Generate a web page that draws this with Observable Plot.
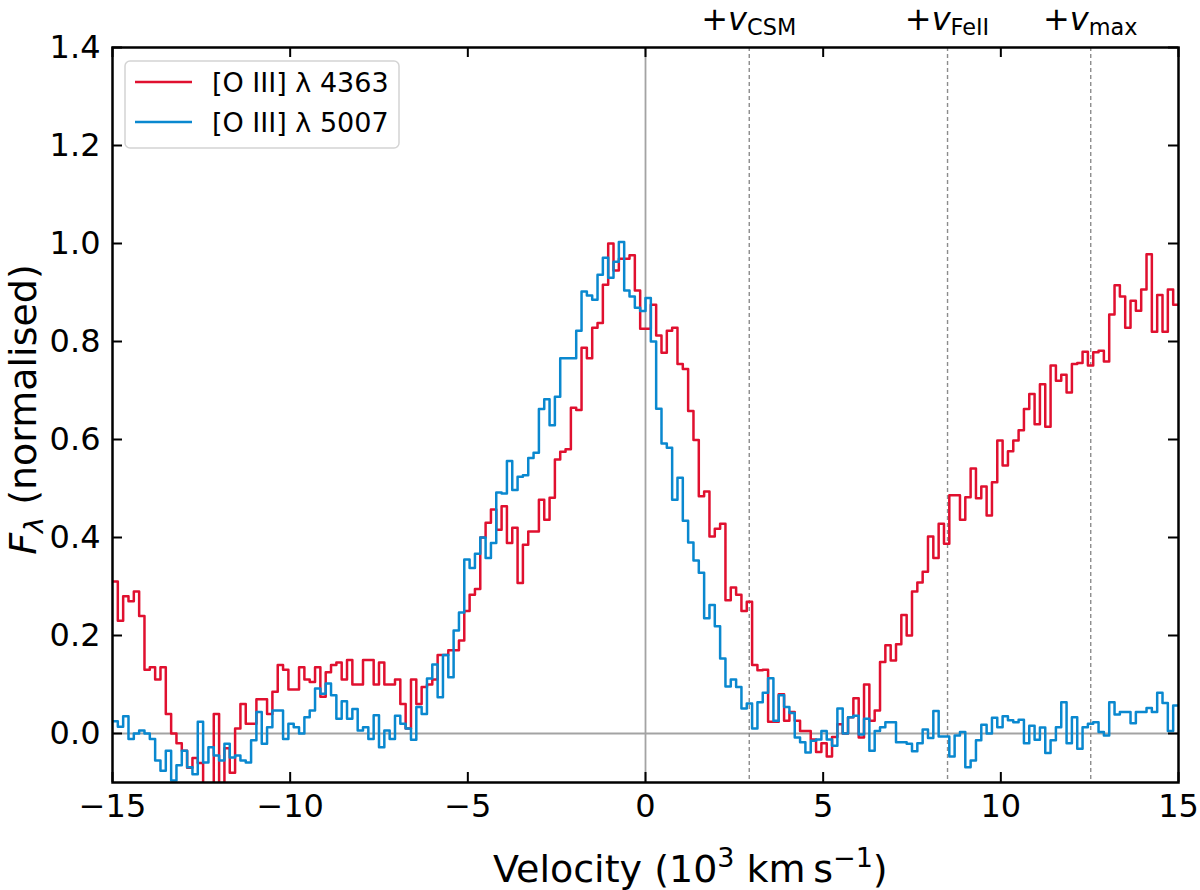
<!DOCTYPE html>
<html>
<head>
<meta charset="utf-8">
<script src="https://cdn.jsdelivr.net/npm/d3@7"></script>
<script src="https://cdn.jsdelivr.net/npm/@observablehq/plot@0.6"></script>
<style>
  body { margin: 0; background: #fff; }
  #chart svg { display: block; }
</style>
</head>
<body>
<div id="chart"></div>
<script>
// velocity grid, 10^3 km/s
const binStart = -15;
const binWidth = 0.15;

// [O III] 4363 normalised flux, one value per bin
const flux4363 = [
  0.31, 0.23, 0.28, 0.27, 0.29, 0.24, 0.13, 0.135, 0.11, 0.135,
  0.04, 0.0, -0.02, -0.035, -0.07, -0.05, -0.06, -0.12, -0.12, 0.04,
  -0.12, -0.03, -0.08, 0.01, 0.06, 0.02, 0.02, 0.07, 0.07, 0.04,
  0.085, 0.14, 0.13, 0.09, 0.09, 0.135, 0.11, 0.105, 0.135, 0.075,
  0.125, 0.14, 0.145, 0.11, 0.15, 0.10, 0.10, 0.15, 0.15, 0.10,
  0.145, 0.10, 0.10, 0.11, 0.06, 0.01, 0.11, 0.06, 0.095, 0.10,
  0.11, 0.16, 0.16, 0.17, 0.17, 0.19, 0.25, 0.283, 0.295, 0.40,
  0.43, 0.457, 0.416, 0.464, 0.389, 0.42, 0.307, 0.385, 0.412, 0.412,
  0.477, 0.436, 0.481, 0.559, 0.575, 0.58, 0.665, 0.66, 0.787, 0.766,
  0.828, 0.838, 0.916, 1.0, 0.945, 0.969, 0.969, 0.976, 0.904, 0.826,
  0.826, 0.875, 0.812, 0.777, 0.822, 0.828, 0.754, 0.744, 0.658, 0.599,
  0.484, 0.494, 0.402, 0.418, 0.428, 0.272, 0.298, 0.283, 0.25, 0.269,
  0.14, 0.129, 0.13, 0.024, 0.024, 0.08, 0.026, 0.044, 0.026, 0.005,
  0.005, -0.012, -0.038, -0.02, -0.047, -0.007, 0.019, 0.0, 0.033, 0.072,
  -0.008, 0.10, 0.026, 0.047, 0.146, 0.18, 0.149, 0.182, 0.242, 0.20,
  0.29, 0.308, 0.33, 0.402, 0.358, 0.428, 0.387, 0.486, 0.486, 0.436,
  0.482, 0.541, 0.48, 0.504, 0.445, 0.513, 0.598, 0.547, 0.576, 0.598,
  0.619, 0.662, 0.693, 0.631, 0.713, 0.626, 0.751, 0.72, 0.732, 0.696,
  0.754, 0.756, 0.779, 0.751, 0.778, 0.781, 0.759, 0.855, 0.915, 0.892,
  0.828, 0.883, 0.863, 0.906, 0.978, 0.82, 0.895, 0.82, 0.906, 0.875
];

// [O III] 5007 normalised flux, one value per bin
const flux5007 = [
  0.025, 0.014, 0.035, -0.011, 0.0, 0.006, 0.0, -0.011, -0.055, -0.076,
  -0.035, -0.096, -0.065, -0.035, -0.069, -0.083, 0.024, -0.059, -0.028, -0.045,
  -0.055, -0.021, -0.049, -0.045, -0.055, -0.059, -0.014, 0.044, -0.021, 0.013,
  0.047, 0.047, -0.011, 0.02, 0.013, 0.0, 0.033, 0.047, 0.092, 0.081,
  0.102, 0.078, 0.03, 0.066, 0.03, 0.05, 0.006, 0.013, -0.011, 0.037,
  -0.028, 0.006, -0.011, 0.036, 0.02, 0.01, -0.013, 0.054, 0.04, 0.112,
  0.141, 0.074, 0.16, 0.115, 0.21, 0.247, 0.355, 0.338, 0.367, 0.40,
  0.358, 0.389, 0.492, 0.49, 0.556, 0.497, 0.524, 0.527, 0.562, 0.573,
  0.662, 0.682, 0.629, 0.687, 0.766, 0.766, 0.766, 0.822, 0.902, 0.894,
  0.885, 0.936, 0.971, 0.93, 0.963, 1.003, 0.904, 0.892, 0.869, 0.862,
  0.889, 0.80, 0.663, 0.592, 0.583, 0.477, 0.522, 0.434, 0.39, 0.353,
  0.328, 0.235, 0.262, 0.219, 0.153, 0.096, 0.11, 0.095, 0.051, 0.061,
  0.01, 0.064, 0.083, 0.113, 0.026, 0.078, 0.054, 0.042, -0.008, -0.018,
  -0.039, -0.015, -0.012, 0.005, -0.012, -0.025, 0.051, 0.0, 0.033, 0.036,
  -0.002, 0.03, -0.035, 0.005, 0.013, 0.023, 0.023, -0.018, -0.018, -0.021,
  -0.036, -0.02, 0.008, -0.009, 0.046, -0.006, -0.006, -0.047, -0.004, 0.003,
  -0.069, -0.055, -0.014, 0.018, 0.0, 0.032, 0.013, 0.035, 0.027, 0.023,
  0.028, -0.02, 0.016, -0.013, 0.012, -0.04, -0.014, 0.013, 0.064, -0.02,
  0.033, -0.031, 0.013, 0.02, 0.023, 0.003, -0.004, 0.064, 0.039, 0.044,
  0.044, 0.021, 0.044, 0.044, 0.052, 0.044, 0.083, 0.062, 0.005, 0.057
];

// characteristic velocities (dashed lines)
const markerNames = ["CSM", "FeII", "max"];
const markerVel = [2.92, 8.5, 12.53];

const xTicks = [-15, -10, -5, 0, 5, 10, 15];
const yTicks = [0.0, 0.2, 0.4, 0.6, 0.8, 1.0, 1.2, 1.4];

const seriesNames = ["[O III] λ 4363", "[O III] λ 5007"];
const seriesColors = ["#e0102f", "#0a88cf"];

// step table: bin left edges, plus a closing point at the right end
function steps(values) {
  const rows = values.map((f, i) => ({v: binStart + i * binWidth, f}));
  rows.push({v: binStart + values.length * binWidth, f: values[values.length - 1]});
  return rows;
}
const red = steps(flux4363);
const blue = steps(flux5007);

const W = 1200, H = 890;
const mL = 112, mR = 22, mT = 47, mB = 108;
const innerW = W - mL - mR, innerH = H - mT - mB;
const tickLen = 10;

const chart = Plot.plot({
  width: W,
  height: H,
  marginLeft: mL,
  marginRight: mR,
  marginTop: mT,
  marginBottom: mB,
  x: {domain: [-15, 15]},
  y: {domain: [-0.1, 1.4]},
  style: {fontFamily: "DejaVu Sans", fontSize: "32px", color: "black", background: "white"},
  marks: [
    Plot.ruleY([0], {stroke: "#a3a3a3", strokeWidth: 1.8}),
    Plot.ruleX([0], {stroke: "#a3a3a3", strokeWidth: 1.8}),
    Plot.ruleX(markerVel, {stroke: "#8c8c8c", strokeWidth: 1.4, strokeDasharray: "4,3"}),
    Plot.line(red, {x: "v", y: "f", curve: "step-after", stroke: seriesColors[0], strokeWidth: 2.5, clip: true}),
    Plot.line(blue, {x: "v", y: "f", curve: "step-after", stroke: seriesColors[1], strokeWidth: 2.5, clip: true}),
    Plot.frame({stroke: "black", strokeWidth: 2.5}),
    // inward ticks on all four sides
    Plot.tickX(xTicks, {x: d => d, insetTop: innerH - tickLen, stroke: "black", strokeWidth: 2}),
    Plot.tickX(xTicks, {x: d => d, insetBottom: innerH - tickLen, stroke: "black", strokeWidth: 2}),
    Plot.tickY(yTicks, {y: d => d, insetRight: innerW - tickLen, stroke: "black", strokeWidth: 2}),
    Plot.tickY(yTicks, {y: d => d, insetLeft: innerW - tickLen, stroke: "black", strokeWidth: 2}),
    Plot.axisX(xTicks, {tickSize: 0, tickPadding: 12, fontSize: 32, label: null}),
    Plot.axisY(yTicks, {tickSize: 0, tickPadding: 12, fontSize: 32, label: null, tickFormat: d3.format(".1f")})
  ]
});

const svg = d3.select(chart);
const xs = chart.scale("x");
const font = "DejaVu Sans";

// labels above the dashed lines
markerNames.forEach((name, i) => {
  const t = svg.append("text")
    .attr("x", xs.apply(markerVel[i]))
    .attr("y", 30)
    .attr("text-anchor", "middle")
    .attr("font-family", font)
    .attr("font-size", 32)
    .attr("fill", "black");
  t.append("tspan").text("+");
  t.append("tspan").attr("font-style", "italic").text("v");
  t.append("tspan").attr("font-size", 22.4).attr("dy", 5).text(name);
});

// x label
const xl = svg.append("text")
  .attr("x", 493)
  .attr("y", 882)
  .attr("text-anchor", "start")
  .attr("font-family", font)
  .attr("font-size", 38)
  .attr("fill", "black");
xl.append("tspan").text("Velocity (10");
xl.append("tspan").attr("font-size", 27).attr("dy", -15).text("3");
xl.append("tspan").attr("dy", 15).text(" km\u2009s");
xl.append("tspan").attr("font-size", 27).attr("dy", -15).text("\u22121");
xl.append("tspan").attr("dy", 15).text(")");

// y label
const yl = svg.append("text")
  .attr("transform", `translate(36,${mT + innerH / 2 - 5}) rotate(-90)`)
  .attr("text-anchor", "middle")
  .attr("font-family", font)
  .attr("font-size", 38)
  .attr("fill", "black");
yl.append("tspan").attr("font-style", "italic").text("F");
yl.append("tspan").attr("font-style", "italic").attr("font-size", 27).attr("dy", 7).text("λ");
yl.append("tspan").attr("dy", -7).text(" (normalised)");

// legend
const lg = svg.append("g");
lg.append("rect")
  .attr("x", 125).attr("y", 61).attr("width", 274).attr("height", 87)
  .attr("rx", 5)
  .attr("fill", "white").attr("fill-opacity", 0.85)
  .attr("stroke", "#d4d4d4").attr("stroke-width", 1.5);
seriesNames.forEach((name, i) => {
  const y = 82 + i * 40;
  lg.append("line")
    .attr("x1", 135).attr("x2", 192).attr("y1", y).attr("y2", y)
    .attr("stroke", seriesColors[i]).attr("stroke-width", 2.5);
  lg.append("text")
    .attr("x", 212).attr("y", y + 10)
    .attr("text-anchor", "start")
    .attr("font-family", font).attr("font-size", 27).attr("fill", "black")
    .text(name);
});

d3.select("#chart").append(() => chart);
</script>
</body>
</html>
